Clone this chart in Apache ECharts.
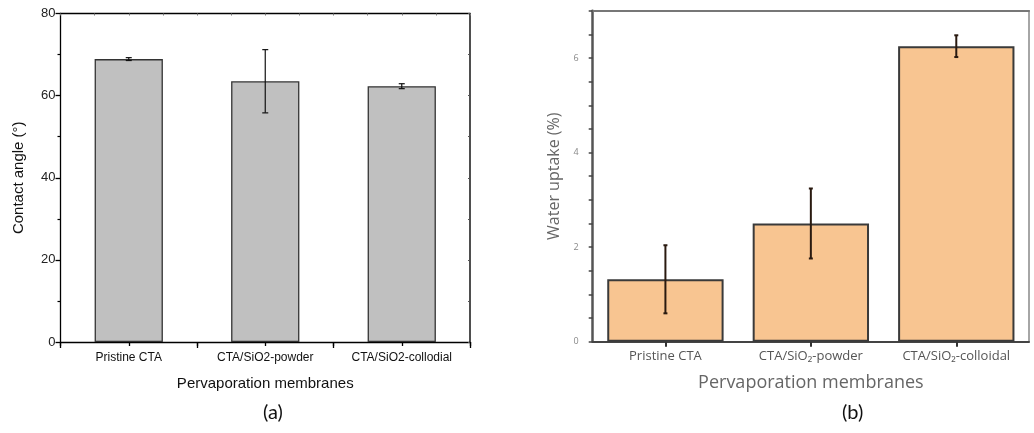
<!DOCTYPE html>
<html>
<head>
<meta charset="utf-8">
<script src="https://cdn.jsdelivr.net/npm/echarts@6/dist/echarts.min.js"></script>
<style>
html,body{margin:0;padding:0;background:#fff;}
#c{width:1034px;height:433px;}
</style>
</head>
<body>
<div id="c"></div>
<script>
// Panel (a): contact angle
const categoriesA = ['Pristine CTA', 'CTA/SiO2-powder', 'CTA/SiO2-collodial'];
const contactAngle = [68.9, 63.5, 62.3];
const contactAngleErr = [0.35, 7.7, 0.6];
const yTicksA = [0, 20, 40, 60, 80];

// Panel (b): water uptake
const categoriesB = ['Pristine CTA', 'CTA/SiO\u2082-powder', 'CTA/SiO\u2082-colloidal'];
const waterUptake = [1.32, 2.50, 6.25];
const waterUptakeErr = [0.72, 0.74, 0.23];
const yTicksB = [0, 2, 4, 6];

const chart = echarts.init(document.getElementById('c'), null, {renderer: 'canvas'});

function errorBar(color, lw, cap) {
  return function (params, api) {
    const x = api.value(0), v = api.value(1), e = api.value(2);
    const hi = api.coord([x, v + e]);
    const lo = api.coord([x, v - e]);
    const st = {stroke: color, lineWidth: lw};
    return {
      type: 'group',
      children: [
        {type: 'line', shape: {x1: hi[0], y1: hi[1], x2: lo[0], y2: lo[1]}, style: st},
        {type: 'line', shape: {x1: hi[0] - cap, y1: hi[1], x2: hi[0] + cap, y2: hi[1]}, style: st},
        {type: 'line', shape: {x1: lo[0] - cap, y1: lo[1], x2: lo[0] + cap, y2: lo[1]}, style: st}
      ]
    };
  };
}

const fontA = 'Liberation Sans';
const fontB = 'Open Sans';

const option = {
  animation: false,
  backgroundColor: '#fff',
  grid: [
    {left: 60.5, top: 13.5, width: 409.5, height: 328.5, containLabel: false},
    {left: 592.7, top: 10.7, width: 436.3, height: 331, containLabel: false}
  ],
  xAxis: [
    // 0: panel a bottom category axis
    {
      type: 'category', gridIndex: 0, position: 'bottom', data: categoriesA,
      axisLine: {onZero: false, lineStyle: {color: '#000', width: 1.3}},
      axisTick: {show: true, length: 6, lineStyle: {color: '#000', width: 1.3}},
      axisLabel: {fontFamily: fontA, fontSize: 12, color: '#111', margin: 10},
      name: 'Pervaporation membranes', nameLocation: 'middle', nameGap: 34,
      nameTextStyle: {fontFamily: fontA, fontSize: 15, color: '#111'}
    },
    // 1: panel a top frame
    {
      type: 'value', gridIndex: 0, position: 'top', min: 0, max: 12, interval: 1,
      axisLine: {show: true, onZero: false, lineStyle: {color: '#000', width: 1.3}},
      axisTick: {show: true, inside: true, length: 2, lineStyle: {color: '#777', width: 1}},
      axisLabel: {show: false}, splitLine: {show: false}
    },
    // 2: panel a bottom tick at bar centres
    {
      type: 'value', gridIndex: 0, position: 'bottom', min: 0, max: 6, interval: 1,
      axisLine: {show: false, onZero: false},
      axisTick: {show: true, length: 4, lineStyle: {color: '#000', width: 1.3}},
      axisLabel: {show: false}, splitLine: {show: false}
    },
    // 3: panel b bottom category axis
    {
      type: 'category', gridIndex: 1, position: 'bottom', data: categoriesB,
      axisLine: {onZero: false, lineStyle: {color: '#444', width: 2}},
      axisTick: {show: true, alignWithLabel: true, length: 5, lineStyle: {color: '#333', width: 2}},
      axisLabel: {fontFamily: fontB, fontSize: 13, color: '#555', margin: 8},
      name: 'Pervaporation membranes', nameLocation: 'middle', nameGap: 32,
      nameTextStyle: {fontFamily: fontB, fontSize: 18, color: '#666'}
    },
    // 4: panel b top frame
    {
      type: 'category', gridIndex: 1, position: 'top', data: categoriesB,
      axisLine: {show: true, onZero: false, lineStyle: {color: '#777', width: 2}},
      axisTick: {show: false}, axisLabel: {show: false}
    }
  ],
  yAxis: [
    // 0: panel a left
    {
      type: 'value', gridIndex: 0, position: 'left', min: 0, max: 80, interval: 20,
      axisLine: {show: true, onZero: false, lineStyle: {color: '#000', width: 1.3}},
      axisTick: {show: true, length: 5, lineStyle: {color: '#000', width: 1.3}},
      minorTick: {show: true, splitNumber: 2, length: 3, lineStyle: {color: '#000', width: 1.2}},
      axisLabel: {fontFamily: fontA, fontSize: 13, color: '#222', margin: 5,
        formatter: v => yTicksA.includes(v) ? String(v) : ''},
      splitLine: {show: false},
      name: 'Contact angle (\u00b0)', nameLocation: 'middle', nameGap: 34,
      nameTextStyle: {fontFamily: fontA, fontSize: 15, color: '#111'}
    },
    // 1: panel a right frame
    {
      type: 'value', gridIndex: 0, position: 'right', min: 0, max: 80, interval: 10,
      axisLine: {show: true, onZero: false, lineStyle: {color: '#222', width: 1.6}},
      axisTick: {show: true, inside: true, length: 2, lineStyle: {color: '#555', width: 1}},
      axisLabel: {show: false}, splitLine: {show: false}
    },
    // 2: panel b left
    {
      type: 'value', gridIndex: 1, position: 'left', min: 0, max: 7, interval: 0.5,
      axisLine: {show: true, onZero: false, lineStyle: {color: '#555', width: 2.5}},
      axisTick: {show: true, length: 4, lineStyle: {color: '#444', width: 1.5}},
      axisLabel: {fontFamily: fontB, fontSize: 9, color: '#888', margin: 14,
        formatter: v => yTicksB.includes(v) ? String(v) : ''},
      splitLine: {show: false},
      name: 'Water uptake (%)', nameLocation: 'middle', nameGap: 30,
      nameTextStyle: {fontFamily: fontB, fontSize: 16, color: '#666'}
    },
    // 3: panel b right frame
    {
      type: 'value', gridIndex: 1, position: 'right', min: 0, max: 7, interval: 7,
      axisLine: {show: true, onZero: false, lineStyle: {color: '#888', width: 1.5}},
      axisTick: {show: false}, axisLabel: {show: false}, splitLine: {show: false}
    }
  ],
  series: [
    {
      type: 'bar', xAxisIndex: 0, yAxisIndex: 0, data: contactAngle, barWidth: '50%',
      itemStyle: {color: '#c0c0c0', borderColor: '#333', borderWidth: 1.3}, z: 2
    },
    {
      type: 'custom', xAxisIndex: 0, yAxisIndex: 0,
      data: categoriesA.map((c, i) => [i, contactAngle[i], contactAngleErr[i]]),
      renderItem: errorBar('#111', 1.2, 3), z: 5
    },
    {
      type: 'bar', xAxisIndex: 3, yAxisIndex: 2, data: waterUptake, barWidth: '80%',
      itemStyle: {color: '#f8c591', borderColor: '#3a3a3a', borderWidth: 2}, z: 2
    },
    {
      type: 'custom', xAxisIndex: 3, yAxisIndex: 2,
      data: categoriesB.map((c, i) => [i, waterUptake[i], waterUptakeErr[i]]),
      renderItem: errorBar('#2a1a10', 2, 2), z: 5
    }
  ],
  graphic: [
    {type: 'text', left: 263, top: 403, style: {text: '(a)', fontFamily: 'Lato', fontSize: 20, fill: '#111', textAlign: 'center'}},
    {type: 'text', left: 842, top: 403, style: {text: '(b)', fontFamily: 'Lato', fontSize: 20, fill: '#111', textAlign: 'center'}}
  ]
};
chart.setOption(option);
</script>
</body>
</html>
